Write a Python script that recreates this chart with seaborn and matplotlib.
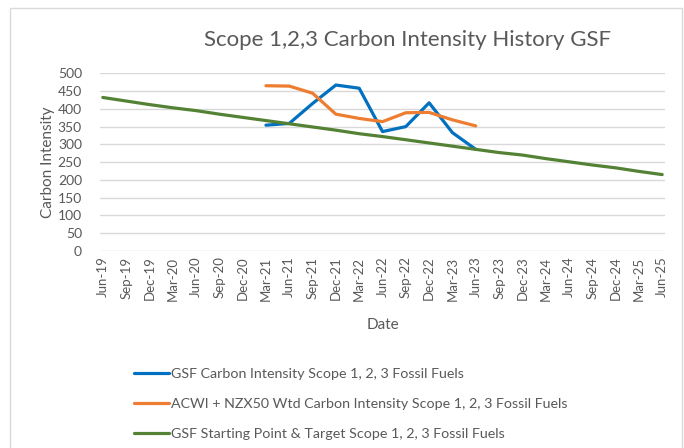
import matplotlib
matplotlib.use("Agg")
import matplotlib.pyplot as plt
import seaborn as sns
import pandas as pd
import numpy as np
from matplotlib.patches import Rectangle
from matplotlib.lines import Line2D

dates = ["Jun-19", "Sep-19", "Dec-19", "Mar-20", "Jun-20", "Sep-20", "Dec-20",
         "Mar-21", "Jun-21", "Sep-21", "Dec-21", "Mar-22", "Jun-22", "Sep-22",
         "Dec-22", "Mar-23", "Jun-23", "Sep-23", "Dec-23", "Mar-24", "Jun-24",
         "Sep-24", "Dec-24", "Mar-25", "Jun-25"]

gsf = [None] * 7 + [354, 359, 415, 467, 458, 336, 350, 417, 333, 286] + [None] * 8
acwi = [None] * 7 + [465, 464, 444, 385, 373, 364, 389, 390, 369, 352] + [None] * 8
target = [432, 422, 412, 403, 395, 385, 376, 367, 358, 349, 340, 330, 322, 313,
          304, 295, 286, 277, 270, 260, 251, 242, 234, 224, 215]

names = ["GSF Carbon Intensity Scope 1, 2, 3 Fossil Fuels",
         "ACWI + NZX50 Wtd Carbon Intensity Scope 1, 2, 3 Fossil Fuels",
         "GSF Starting Point & Target Scope 1, 2, 3 Fossil Fuels"]
colors = ["#0070C0", "#ED7D31", "#548235"]

rows = []
for name, vals in zip(names, [gsf, acwi, target]):
    for i, v in enumerate(vals):
        if v is not None:
            rows.append({"pos": i, "value": v, "series": name})
df = pd.DataFrame(rows)

sns.set_theme(style="white")
plt.rcParams["font.family"] = ["Lato", "DejaVu Sans"]
txt = "#595959"

fig = plt.figure(figsize=(6.84, 4.48), dpi=100)
fig.patch.set_facecolor("white")
fig.patches.append(Rectangle((10 / 684, -0.01), 672 / 684, 1 - 8 / 448 + 0.01,
                             transform=fig.transFigure, fill=False,
                             edgecolor="#D9D9D9", linewidth=1.0))

ax = fig.add_axes([100 / 684, 1 - 251 / 448, 565 / 684, (251 - 73.3) / 448])
sns.lineplot(data=df, x="pos", y="value", hue="series", hue_order=names,
             palette=colors, linewidth=2.3, ax=ax, legend=False, sort=True)

ax.set_ylim(0, 500)
ax.set_xlim(-0.12, 24.12)
ax.set_yticks(np.arange(0, 501, 50))
ax.set_xticks(range(len(dates)))
ax.set_xticklabels(dates, rotation=90, fontsize=9.5, color=txt)
ax.tick_params(axis="y", labelsize=10, colors=txt, length=0, pad=13)
ax.tick_params(axis="x", length=0, pad=4, colors=txt)
ax.yaxis.grid(True, color="#D9D9D9", linewidth=1.0)
ax.xaxis.grid(False)
for s in ax.spines.values():
    s.set_visible(False)
ax.set_axisbelow(True)

ax.set_ylabel("Carbon Intensity", fontsize=11, color=txt, labelpad=2)
ax.set_xlabel("")
fig.text(383 / 684, 1 - 325 / 448, "Date", ha="center", va="center",
         fontsize=11, color=txt)
fig.text(408 / 684, 1 - 40 / 448, "Scope 1,2,3 Carbon Intensity History GSF",
         ha="center", va="center", fontsize=16, color=txt)

handles = [Line2D([0], [0], color=c, linewidth=2.3) for c in colors]
fig.legend(handles, names, loc="upper left", bbox_to_anchor=(128 / 684, 1 - 362 / 448),
           frameon=False, fontsize=10.3, labelcolor=txt, handlelength=2.5,
           handletextpad=0.1, labelspacing=1.25, borderaxespad=0)

fig.savefig("out.png", dpi=100, facecolor="white")
